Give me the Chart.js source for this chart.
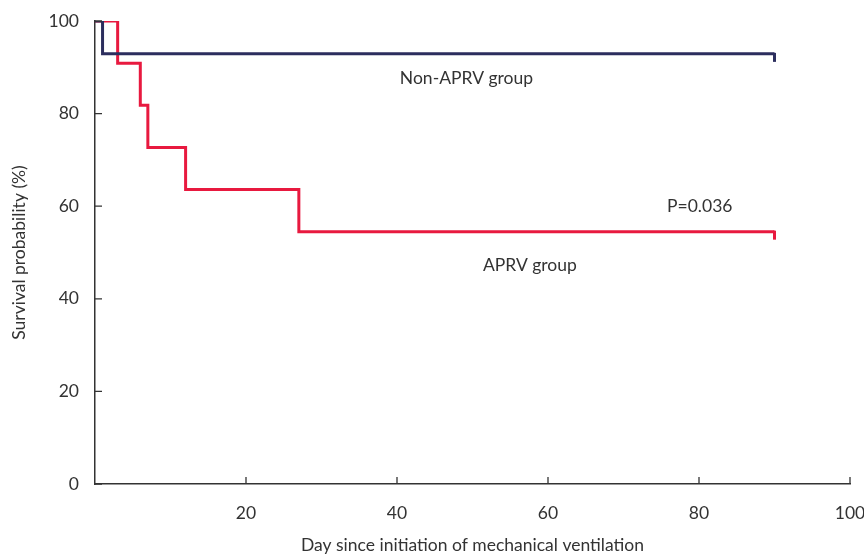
<!DOCTYPE html>
<html>
<head>
<meta charset="utf-8">
<script src="https://cdn.jsdelivr.net/npm/chart.js@4.4.1/dist/chart.umd.min.js"></script>
<style>
  html, body { margin: 0; padding: 0; background: #fff; }
  #wrap { width: 864px; height: 556px; }
</style>
</head>
<body>
<div id="wrap"><canvas id="kmChart" width="864" height="556"></canvas></div>
<script>
// Kaplan-Meier steps (day, survival %)
const nonAprvDays = [0, 1, 90];
const nonAprvSurv = [100, 92.9, 92.9];
const aprvDays = [0, 3, 6, 7, 12, 27, 90];
const aprvSurv = [100, 90.9, 81.8, 72.7, 63.6, 54.5, 54.5];

const xTicks = [20, 40, 60, 80, 100];
const yTicks = [0, 20, 40, 60, 80, 100];

const NAVY = '#2c2e5e';
const RED = '#e8193f';
const TEXT = '#333333';
const FONT = 'Lato, "Open Sans", sans-serif';

const toPoints = (xs, ys) => xs.map((x, i) => ({ x: x, y: ys[i] }));

// inward tick marks, censor ticks and in-plot text
const decorPlugin = {
    id: 'decor',
    afterDatasetsDraw(chart) {
        const ctx = chart.ctx;
        const xs = chart.scales.x;
        const ys = chart.scales.y;
        const area = chart.chartArea;

        ctx.save();
        ctx.strokeStyle = TEXT;
        ctx.lineWidth = 1.3;
        ctx.beginPath();
        xTicks.forEach(t => {
            const px = xs.getPixelForValue(t);
            ctx.moveTo(px, area.bottom);
            ctx.lineTo(px, area.bottom - 7);
        });
        yTicks.forEach(t => {
            const py = ys.getPixelForValue(t);
            ctx.moveTo(area.left, py);
            ctx.lineTo(area.left + 7, py);
        });
        ctx.stroke();

        // censor marks at the end of follow-up
        chart.data.datasets.forEach(ds => {
            const last = ds.data[ds.data.length - 1];
            const px = xs.getPixelForValue(last.x);
            const py = ys.getPixelForValue(last.y);
            ctx.strokeStyle = ds.borderColor;
            ctx.lineWidth = 3;
            ctx.beginPath();
            ctx.moveTo(px, py - 1);
            ctx.lineTo(px, py + 8);
            ctx.stroke();
        });

        ctx.fillStyle = TEXT;
        ctx.font = '17.5px ' + FONT;
        ctx.textAlign = 'center';
        ctx.textBaseline = 'middle';
        ctx.fillText('Non-APRV group', xs.getPixelForValue(49.2), ys.getPixelForValue(87.6));
        ctx.fillText('P=0.036', xs.getPixelForValue(80.1), ys.getPixelForValue(60));
        ctx.fillText('APRV group', xs.getPixelForValue(57.6), ys.getPixelForValue(47.2));
        ctx.restore();
    }
};

new Chart(document.getElementById('kmChart'), {
    type: 'line',
    data: {
        datasets: [
            {
                label: 'Non-APRV group',
                data: toPoints(nonAprvDays, nonAprvSurv),
                borderColor: NAVY,
                borderWidth: 3,
                stepped: 'before',
                pointRadius: 0,
                fill: false
            },
            {
                label: 'APRV group',
                data: toPoints(aprvDays, aprvSurv),
                borderColor: RED,
                borderWidth: 3,
                stepped: 'before',
                pointRadius: 0,
                fill: false
            }
        ]
    },
    options: {
        responsive: false,
        animation: false,
        devicePixelRatio: 1,
        layout: { padding: { left: 0, right: 14, top: 21, bottom: 0 } },
        plugins: {
            legend: { display: false },
            tooltip: { enabled: false }
        },
        scales: {
            x: {
                type: 'linear',
                min: 0,
                max: 100,
                afterBuildTicks: axis => { axis.ticks = xTicks.map(v => ({ value: v })); },
                afterFit: axis => {
                    axis.height = 72;
                    axis.paddingLeft = 0;
                    axis.paddingRight = 0;
                },
                grid: { display: false, drawTicks: false },
                border: { display: true, color: TEXT, width: 1.5 },
                ticks: { color: TEXT, font: { family: FONT, size: 17.5 }, padding: 19, maxRotation: 0 },
                title: {
                    display: true,
                    text: 'Day since initiation of mechanical ventilation',
                    color: TEXT,
                    font: { family: FONT, size: 17.5 },
                    padding: { top: 6, bottom: 0 }
                }
            },
            y: {
                min: 0,
                max: 100,
                afterBuildTicks: axis => { axis.ticks = yTicks.map(v => ({ value: v })); },
                afterFit: axis => {
                    axis.width = 95;
                    axis.paddingTop = 0;
                    axis.paddingBottom = 0;
                },
                grid: { display: false, drawTicks: false },
                border: { display: true, color: TEXT, width: 1.5 },
                ticks: { color: TEXT, font: { family: FONT, size: 17.5 }, padding: 16 },
                title: {
                    display: true,
                    text: 'Survival probability (%)',
                    color: TEXT,
                    font: { family: FONT, size: 17.5 },
                    padding: { top: 9, bottom: 4 }
                }
            }
        }
    },
    plugins: [decorPlugin]
});
</script>
</body>
</html>
